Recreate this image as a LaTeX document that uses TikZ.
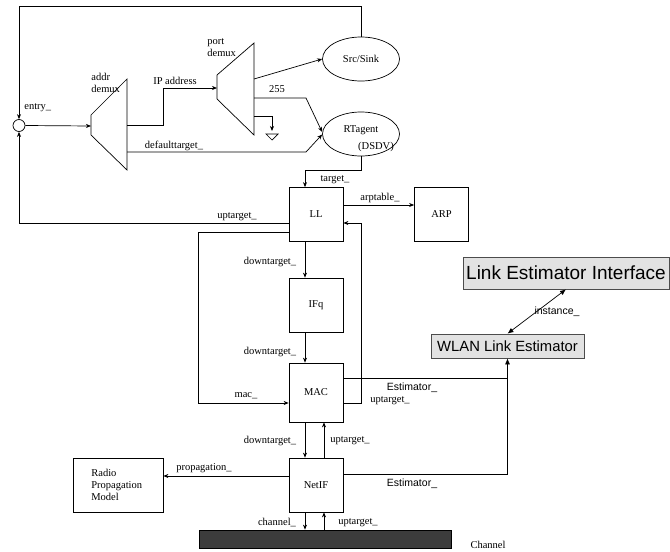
\documentclass[tikz,border=0pt]{standalone}
\usepackage{fontspec}
\setmainfont{Liberation Serif}
\newfontfamily\sansf{Liberation Sans}
\usetikzlibrary{arrows.meta,shapes.geometric}
\definecolor{boxgray}{HTML}{E2E2E2}
\definecolor{bargray}{HTML}{3C3C3C}
\begin{document}
\begin{tikzpicture}[x=1pt,y=-1pt,
  line width=0.7pt,
  >={Stealth[length=5pt,width=4pt,inset=1.5pt]},
  every node/.style={font=\fontsize{10.5}{12}\selectfont},
  blk/.style={draw,minimum width=54pt,minimum height=54pt,inner sep=0pt},
  oval/.style={draw,ellipse,minimum width=77pt,minimum height=44pt,inner sep=0pt},
  lbl/.style={inner sep=0pt},
  sbox/.style={draw=black!70,fill=boxgray,inner sep=0pt,font=\sansf\fontsize{#1}{#1}\selectfont},
  slbl/.style={inner sep=0pt,font=\sansf\fontsize{10.5}{12}\selectfont},
  fat/.style={-{Latex[length=6pt,width=5pt]}},
  fatboth/.style={{Latex[length=6pt,width=5pt]}-{Latex[length=6pt,width=5pt]}}]
\useasboundingbox (0,0) rectangle (670,552);

% ---- routing front end -------------------------------------------------
\node[draw,circle,minimum size=12pt,inner sep=0pt] (circ) at (19,125.5) {};

% address demultiplexer
\draw (91,115) -- (127,79) -- (127,170) -- (91,135) -- cycle;
\coordinate (addrIn) at (91,126);
\coordinate (addrIP) at (127,125);
\coordinate (addrDef) at (127,152);
\node[lbl,anchor=west,align=left] at (91,82.5) {addr\\demux};

% port demultiplexer
\draw (217,75) -- (254,43) -- (254,135) -- (217,99) -- cycle;
\coordinate (portIn) at (217,88);
\coordinate (portSrc) at (254,79);
\coordinate (port255) at (254,98);
\coordinate (portGnd) at (254,116);
\node[lbl,anchor=west,align=left] at (207,47.5) {port\\demux};

\node[oval] (src) at (361,59) {Src/Sink};
\node[oval] (rt) at (361,134) {};
\node[lbl] at (361,130) {RTagent};
\node[lbl] at (376,147) {(DSDV)};

\draw[->] (circ.east) -- (addrIn);
\node[lbl,anchor=west] at (24,108) {entry\_};
\draw[->] (addrIP) -- ++(36,0) |- (portIn);
\node[lbl] at (175,81) {IP address};
\draw[->] (portSrc) -- (src.west);
\draw[->] (port255) -- (306,98) -- ([yshift=2pt]rt.west);
\node[lbl] at (277,89) {255};
\draw[->] (addrDef) -- (306,152) -- ([yshift=-0.5pt]rt.west);
\node[lbl] at (174,146) {defaulttarget\_};

% discard sink
\draw[->] (portGnd) -- ++(18,0) -- ++(0,15);
\draw (266,134) -- (278,134) -- (272,140) -- cycle;

% loop back into the entry point
\draw[->] (src.north) -- ++(0,-30) -| (circ.north);

% ---- protocol stack ----------------------------------------------------
\node[blk] (ll) at (316,214.5) {LL};
\node[blk] (arp) at (441.5,214.5) {ARP};
\node[blk] (ifq) at (316,305) {IFq};
\node[blk,minimum height=59pt] (mac) at (316,392.5) {MAC};
\node[blk] (nif) at (316,485) {NetIF};
\node[draw,minimum width=90pt,minimum height=54pt,inner sep=0pt] (radio) at (118,485) {};
\node[lbl,anchor=west,align=left] at (91,485) {Radio\\Propagation\\Model};
\node[draw,fill=bargray,minimum width=252pt,minimum height=18pt,inner sep=0pt] (chan) at (325,539) {};
\node[lbl] at (488,545) {Channel};

\draw[->] (rt.south) -- ++(0,14) -| ([xshift=-11pt]ll.north);
\node[lbl] at (335,180) {target\_};

\draw[->] ([yshift=9.5pt]ll.east) -- ([yshift=9.5pt]arp.west);
\node[lbl] at (380,198) {arptable\_};

\draw[->] ([yshift=-8.5pt]ll.west) -| (circ.south);
\node[lbl] at (237,217) {uptarget\_};

\draw[->] ([xshift=-11pt]ll.south) -- ([xshift=-11pt]ifq.north);
\node[lbl] at (270,262) {downtarget\_};
\draw[->] ([xshift=-11pt]ifq.south) -- ([xshift=-11pt]mac.north);
\node[lbl] at (270,352) {downtarget\_};

\draw[->] ([yshift=-17.5pt]ll.west) -- ++(-90,0) |- ([yshift=-10.5pt]mac.west);
\node[lbl] at (246,396) {mac\_};
\draw[->] ([yshift=-10.5pt]mac.east) -- ++(18,0) |- ([yshift=-8.5pt]ll.east);
\node[lbl] at (390,401) {uptarget\_};

\draw[->] ([xshift=-11pt]mac.south) -- ([xshift=-11pt]nif.north);
\node[lbl] at (270,441) {downtarget\_};
\draw[->] ([xshift=8pt]nif.north) -- ([xshift=8pt]mac.south);
\node[lbl] at (350,441) {uptarget\_};

\draw[->] ([yshift=9pt]nif.west) -- ([yshift=9pt]radio.east);
\node[lbl] at (204,468) {propagation\_};

\draw[->] ([xshift=-11pt]nif.south) -- ([xshift=-11pt]nif.south |- chan.north);
\node[lbl] at (277,523) {channel\_};
\draw[->] ([xshift=8pt]nif.south |- chan.north) -- ([xshift=8pt]nif.south);
\node[lbl] at (358,523) {uptarget\_};

% ---- link estimation ---------------------------------------------------
\node[sbox=19,minimum width=206pt,minimum height=32pt] (lei) at (566,273) {Link Estimator Interface};
\node[sbox=14.8,minimum width=153pt,minimum height=24pt] (wlan) at (507.5,346) {WLAN Link Estimator};

\draw[fatboth] (wlan.north) -- (lei.south);
\node[slbl] at (557,312) {instance\_};

\draw ([yshift=14.5pt]mac.east) -- ([yshift=14.5pt]mac.east -| wlan.south);
\draw[fat] ([yshift=11pt]nif.east) -| (wlan.south);
\node[slbl] at (412,388) {Estimator\_};
\node[slbl] at (412,484) {Estimator\_};
\end{tikzpicture}
\end{document}
